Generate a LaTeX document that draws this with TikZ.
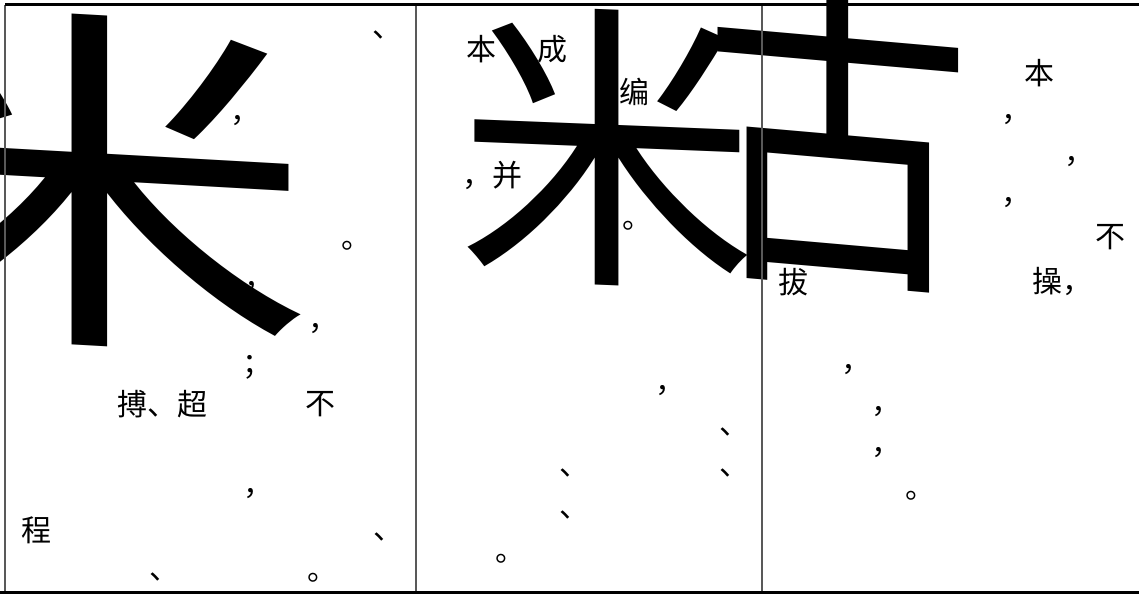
\documentclass[tikz,border=0pt]{standalone}
\usepackage{fontspec}
\newfontfamily\cjk{Noto Sans CJK SC}
\tikzset{
  txt/.style={font=\cjk\fontsize{30}{36}\selectfont,inner sep=0pt},
  pu/.style={txt,xshift=9.5pt},
  big/.style={font=\cjk\fontsize{#1}{#1}\selectfont,inner sep=0pt,transform shape},
  rule/.style={line width=3pt},
  colsep/.style={line width=1.3pt,draw=black!65}
}
\begin{document}
\begin{tikzpicture}[x=1pt,y=-1pt]
	\useasboundingbox (0,0) rectangle (1139,594);
	% first column
	\node[pu] (dun1) at (378,35) {、};
	\node[pu] (ju1) at (218,80) {。};
	\node[pu] (dou1) at (236,121) {，};
	\node[pu] (ju2) at (347,246) {。};
	\node[pu] (dou2) at (250,287) {，};
	\node[pu] (dou3) at (314,329) {，};
	\node[pu] (fen1) at (248,367) {；};
	\node[txt] (bo) at (162,404) {搏、超};
	\node[txt] (bu1) at (320,404) {不};
	\node[pu] (dou4) at (249,494) {，};
	\node[txt] (cheng) at (36,530) {程};
	\node[pu] (dun2) at (379,537) {、};
	\node[pu] (dun3) at (155,577) {、};
	\node[pu] (ju3) at (313,578) {。};
	% second column
	\node[txt] (ben1) at (481,49) {本};
	\node[txt] (cheng2) at (552,49) {成};
	\node[txt] (bian) at (634,92) {编};
	\node[txt] (bing) at (492,175) {，并};
	\node[pu] (ju4) at (628,226) {。};
	\node[pu] (dou5) at (661,391) {，};
	\node[pu] (dun4) at (725,432) {、};
	\node[pu] (dun5) at (565,473) {、};
	\node[pu] (dun6) at (725,473) {、};
	\node[pu] (dun7) at (565,515) {、};
	\node[pu] (ju5) at (501,559) {。};
	% third column
	\node[txt] (ben2) at (1039,73) {本};
	\node[pu] (dou6) at (1007,120) {，};
	\node[pu] (dou7) at (1070,162) {，};
	\node[pu] (dou8) at (1007,203) {，};
	\node[txt] (bu2) at (1110,237) {不};
	\node[txt] (ba) at (793,282) {拔};
	\node[txt] (cao) at (1062,282) {操，};
	\node[pu] (dou9) at (847,370) {，};
	\node[pu] (dou10) at (877,412) {，};
	\node[pu] (dou11) at (877,453) {，};
	\node[pu] (ju6) at (911,496) {。};
	% big heading glyphs
	\node[big=360,xscale=1.25,yslant=-0.07] (mi1) at (91,180) {米};
	\node[big=300,yslant=-0.04] (mi2) at (607,148) {米};
	\node[big=336,xscale=0.8,yslant=-0.07] (gu) at (838,132) {古};
	% rules
	\coordinate (tl) at (5,5);
	\coordinate (tr) at (1139,5);
	\coordinate (bl) at (0,592.5);
	\coordinate (br) at (1139,592.5);
	\draw[colsep] (5,5) coordinate (lt) -- (5,592) coordinate (lb);
	\draw[colsep] (416,5) coordinate (s1t) -- (416,592) coordinate (s1b);
	\draw[colsep] (762,5) coordinate (s2t) -- (762,592) coordinate (s2b);
	\draw[rule] (tl) -- (tr);
	\draw[rule] (bl) -- (br);
\end{tikzpicture}
\end{document}
